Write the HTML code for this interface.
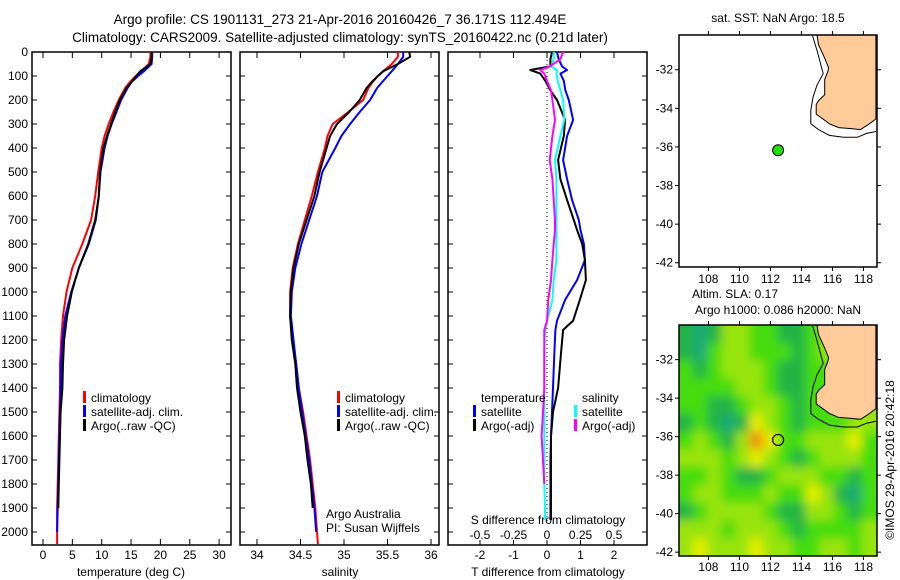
<!DOCTYPE html>
<html><head><meta charset="utf-8"><style>
body{margin:0;background:#fff;}
svg{display:block;font-family:"Liberation Sans",sans-serif;}
text{fill:#000;}
</style></head><body>
<svg id="fig" width="900" height="580" viewBox="0 0 900 580" xmlns="http://www.w3.org/2000/svg">
<defs>
<filter id="blur" x="-5%" y="-5%" width="110%" height="110%"><feGaussianBlur stdDeviation="5"/></filter>
<clipPath id="map2clip"><rect x="679" y="325" width="198" height="231"/></clipPath>
</defs>
<text x="340" y="24" font-size="13.5" text-anchor="middle">Argo profile: CS 1901131_273 21-Apr-2016 20160426_7 36.171S 112.494E</text>
<text x="340" y="42" font-size="13.5" text-anchor="middle">Climatology: CARS2009. Satellite-adjusted climatology: synTS_20160422.nc (0.21d later)</text>
<g id="layer"></g>
</svg>
<script>
// ---- profile data ----
const depths = [0,20,50,80,100,125,150,200,250,300,350,400,500,600,700,800,900,1000,1100,1200,1300,1400,1500,1600,1700,1800,1900,2000,2050];
const tempClim = [18.3,18.3,18.0,16.8,15.8,14.8,14.0,12.9,12.0,11.2,10.5,10.0,9.4,8.9,8.2,6.7,5.0,4.0,3.4,3.1,2.9,2.9,2.8,2.7,2.6,2.5,2.4,2.4,2.4];
const tempSat  = [18.6,18.6,18.5,17.2,16.2,15.1,14.4,13.3,12.5,11.7,11.0,10.5,9.8,9.5,9.0,7.8,6.1,4.8,3.8,3.3,3.1,3.0,2.9,2.8,2.7,2.6,2.5,2.4,null];
const tempArgo = [18.5,18.5,18.3,16.6,15.9,15.1,14.2,13.1,12.3,11.6,10.9,10.3,9.7,9.5,8.9,7.7,6.1,4.9,4.1,3.6,3.4,3.3,3.0,2.9,2.8,2.7,2.6,null,null];
const salClim = [35.62,35.62,35.55,35.45,35.39,35.33,35.28,35.22,35.05,34.87,34.81,34.78,34.70,34.63,34.55,34.47,34.41,34.38,34.38,34.41,34.45,34.48,34.53,34.57,34.61,34.64,34.67,34.69,34.70];
const salSat  = [35.68,35.68,35.62,35.55,35.50,35.44,35.38,35.30,35.18,35.07,34.97,34.90,34.75,34.69,34.60,34.51,34.44,34.40,34.39,34.42,34.45,34.48,34.52,34.56,34.60,34.63,34.66,34.68,null];
const salArgo = [35.75,35.76,35.62,35.45,35.39,35.32,35.26,35.18,35.06,34.92,34.84,34.80,34.72,34.66,34.57,34.48,34.42,34.39,34.38,34.40,34.44,34.46,34.50,34.55,34.58,34.62,34.64,null,null];
// differences (vs climatology)
const diffDepths = [0,30,60,75,90,120,160,200,283,350,450,530,617,700,742,800,867,950,1033,1120,1158,1250,1400,1500,1600,1700,1800,1900,1950];
const dTSat  = [0.30,0.35,0.45,0.60,0.40,0.50,0.55,0.65,0.78,0.60,0.48,0.60,0.75,0.95,1.00,1.10,1.13,0.90,0.54,0.30,0.25,0.22,0.18,0.15,0.12,0.10,0.10,0.10,0.10];
const dTArgo = [0.15,0.10,0.10,-0.50,-0.20,-0.05,0.10,0.30,0.54,0.50,0.33,0.40,0.60,0.80,0.90,1.05,1.13,1.16,0.98,0.78,0.48,0.42,0.33,0.18,0.12,0.12,0.12,0.12,0.12];
const dSSat  = [0.05,0.05,0.03,0.075,0.07,0.08,0.10,0.12,0.13,0.10,0.06,0.07,0.07,0.07,0.07,0.07,0.07,0.05,0.04,0.00,-0.015,-0.02,-0.02,-0.02,-0.02,-0.02,-0.02,-0.015,-0.015];
const dSArgo = [0.12,0.10,0.02,-0.05,-0.02,0.00,0.03,0.04,0.06,0.04,0.02,0.04,0.05,0.06,0.06,0.05,0.04,0.03,0.01,0.00,-0.02,-0.02,-0.02,-0.03,-0.04,-0.03,-0.02,null,null];
// axis ticks
const depthTicks = [0,100,200,300,400,500,600,700,800,900,1000,1100,1200,1300,1400,1500,1600,1700,1800,1900,2000];
const tempTicks = [0,5,10,15,20,25,30];
const salTicks = [34,34.5,35,35.5,36];
const salTickLabels = ["34","34.5","35","35.5","36"];
const tdTicks = [-2,-1,0,1,2];
const sdTicks = [-0.5,-0.25,0,0.25,0.5];
const sdTickLabels = ["-0.5","-0.25","0","0.25","0.5"];
// map data
const lonTicks = [108,110,112,114,116,118];
const latTicks = [-32,-34,-36,-38,-40,-42];
const argoLon = [112.494];
const argoLat = [-36.171];
// SLA heatmap (levels 0..5), 13 rows (N->S) x 14 cols (W->E)
const slaRows = [
 [1,0,1,3,3,2,2,1,1,2,3,3,3,3],
 [1,0,2,3,3,2,2,2,1,2,3,3,3,3],
 [2,1,2,3,3,3,2,1,1,2,2,3,3,3],
 [2,2,2,2,3,3,2,1,1,2,2,3,3,3],
 [2,2,1,1,2,3,3,2,1,2,2,3,3,3],
 [1,2,1,0,1,4,3,2,1,2,2,2,3,3],
 [2,3,2,1,3,5,4,2,2,3,3,3,4,2],
 [3,3,3,2,3,4,3,2,1,2,3,3,3,2],
 [2,2,3,2,1,1,2,3,3,3,2,2,1,2],
 [2,3,3,2,2,2,3,2,2,4,3,1,0,2],
 [1,2,3,3,3,3,2,1,1,3,3,2,1,2],
 [3,3,3,2,3,3,3,2,1,2,2,2,2,3],
 [3,4,3,3,3,4,3,3,2,2,3,3,2,3]
];
const slaColors = ["#1faa77","#22b444","#44dd11","#99e411","#e6ee00","#f09010"];
// coast (lon, lat)
const coastLon = [115.0,115.1,115.5,115.75,115.7,115.5,115.5,115.1,114.95,114.95,115.3,115.8,116.4,117.2,117.8,118.3,118.8,118.8];
const coastLat = [-30.2,-30.7,-31.4,-31.9,-32.1,-32.5,-33.3,-33.6,-33.8,-34.3,-34.5,-34.8,-35.0,-35.05,-35.1,-34.85,-34.55,-30.2];
const shelfLon = [114.7,115.0,115.3,115.4,115.0,114.75,114.6,114.6,115.1,115.8,116.7,117.6,118.2,118.8];
const shelfLat = [-30.2,-31.0,-31.9,-32.2,-32.8,-33.4,-34.1,-34.8,-35.1,-35.4,-35.5,-35.5,-35.3,-35.2];

const NS="http://www.w3.org/2000/svg";
const layer=document.getElementById('layer');
function mk(tag,attrs,parent){const e=document.createElementNS(NS,tag);for(const k in attrs)e.setAttribute(k,attrs[k]);(parent||layer).appendChild(e);return e;}
function txt(x,y,s,size,anchor,parent){const t=mk('text',{x:x,y:y,'font-size':size||12,'text-anchor':anchor||'middle'},parent);t.textContent=s;return t;}

// axis functions
const yDepth=d=>52+0.24*d;
const xTemp=v=>43+5.87*v;
const xSal=v=>257+87*(v-34);
const xTD=v=>547+33.5*v;
const xSD=v=>547+134*v;
function mapX(lon){return 679+(lon-106.1)*15.5;}
function mapY1(lat){return 35+(-30.2-lat)*19.3;}
function mapY2(lat){return 325+(-30.2-lat)*19.25;}

function series(xs,ds,xf,color,name,w){
  let pts=[];
  for(let i=0;i<ds.length;i++){ if(xs[i]==null) continue; pts.push(xf(xs[i]).toFixed(1)+','+yDepth(ds[i]).toFixed(1)); }
  const p=mk('polyline',{points:pts.join(' '),fill:'none',stroke:color,'stroke-width':w||2,'stroke-linejoin':'round'});
  
  
}
function panel(x0,name){
  const g=mk('rect',{x:x0,y:52,width:199,height:493,fill:'none',stroke:'#000','stroke-width':1.5});
  
  
  for(const d of depthTicks){const y=yDepth(d);mk('line',{x1:x0,y1:y,x2:x0+5,y2:y,stroke:'#000'});mk('line',{x1:x0+199,y1:y,x2:x0+194,y2:y,stroke:'#000'});}
}
function xticks(vals,labels,xf,ytext,name){
  vals.forEach((v,i)=>{const x=xf(v);mk('line',{x1:x,y1:52,x2:x,y2:58,stroke:'#000'});mk('line',{x1:x,y1:545,x2:x,y2:539,stroke:'#000'});
    const t=txt(x,ytext,labels[i],12);});
}
function legendEntry(x,y,color,label,name){
  mk('rect',{x:x,y:y-11,width:3,height:12,fill:color});
  const t=txt(x+8,y,label,12,'start');
  
  
}

// Panel 1 temperature
panel(32,'temperature-panel');
depthTicks.forEach(d=>{const t=txt(28,yDepth(d)+4,String(d),12,'end');});
xticks(tempTicks,tempTicks.map(String),xTemp,559,'temperature-tick-label');
txt(131,576,'temperature (deg C)',12);
series(tempClim,depths,xTemp,'#ff0000','temp-climatology-line');
series(tempSat,depths,xTemp,'#0000ff','temp-satellite-line');
series(tempArgo,depths,xTemp,'#000000','temp-argo-line');
legendEntry(83,402,'#ff0000','climatology','legend-climatology');
legendEntry(83,416,'#0000ff','satellite-adj. clim.','legend-satellite');
legendEntry(83,430,'#000000','Argo(..raw -QC)','legend-argo');

// Panel 2 salinity
panel(240,'salinity-panel');
xticks(salTicks,salTickLabels,xSal,559,'salinity-tick-label');
txt(340,576,'salinity',12);
series(salClim,depths,xSal,'#ff0000','sal-climatology-line');
series(salSat,depths,xSal,'#0000ff','sal-satellite-line');
series(salArgo,depths,xSal,'#000000','sal-argo-line');
legendEntry(337,402,'#ff0000','climatology','legend-climatology-2');
legendEntry(337,416,'#0000ff','satellite-adj. clim.','legend-satellite-2');
legendEntry(337,430,'#000000','Argo(..raw -QC)','legend-argo-2');
txt(326,518,'Argo Australia',12,'start');
txt(326,532,'PI: Susan Wijffels',12,'start');

// Panel 3 differences
panel(448,'difference-panel');
mk('line',{x1:xTD(0),y1:52,x2:xTD(0),y2:yDepth(1960),stroke:'#000','stroke-dasharray':'1,3'});
tdTicks.forEach(v=>{const x=xTD(v);mk('line',{x1:x,y1:52,x2:x,y2:58,stroke:'#000'});const t=txt(x,559,String(v),12);});
sdTicks.forEach((v,i)=>{const x=xSD(v);mk('line',{x1:x,y1:545,x2:x,y2:540,stroke:'#000'});const t=txt(x,539,sdTickLabels[i],12);});
txt(548,524,'S difference from climatology',12);
txt(548,576,'T difference from climatology',12);
series(dTSat,diffDepths,xTD,'#0000ff','t-diff-satellite-line');
series(dTArgo,diffDepths,xTD,'#000000','t-diff-argo-line');
series(dSSat,diffDepths,xSD,'#00ffff','s-diff-satellite-line');
series(dSArgo,diffDepths,xSD,'#ff00ff','s-diff-argo-line');
txt(481,402,'temperature',12,'start');
legendEntry(473,416,'#0000ff','satellite','legend-t-satellite');
legendEntry(473,430,'#000000','Argo(-adj)','legend-t-argo');
txt(582,402,'salinity',12,'start');
legendEntry(574,416,'#00ffff','satellite','legend-s-satellite');
legendEntry(574,430,'#ff00ff','Argo(-adj)','legend-s-argo');

// Maps
function coastPts(yf,lons,lats){return lons.map((l,i)=>mapX(l).toFixed(1)+','+yf(lats[i]).toFixed(1)).join(' ');}
function mapFrame(top,h,yf,ylab,name){
  const r=mk('rect',{x:679,y:top,width:198,height:h,fill:'none',stroke:'#000','stroke-width':1.5});
  
  
  lonTicks.forEach(l=>{const x=mapX(l);mk('line',{x1:x,y1:top,x2:x,y2:top-4,stroke:'#000'});mk('line',{x1:x,y1:top+h,x2:x,y2:top+h+4,stroke:'#000'});
    const t=txt(x,ylab,String(l),12);});
  latTicks.forEach(la=>{const y=yf(la);mk('line',{x1:679,y1:y,x2:675,y2:y,stroke:'#000'});mk('line',{x1:877,y1:y,x2:881,y2:y,stroke:'#000'});
    const t=txt(673,y+4,String(la),12,'end');});
}
// map 1
txt(778,22,'sat. SST: NaN Argo: 18.5',12);
const land1=mk('polygon',{points:coastPts(mapY1,coastLon,coastLat),fill:'#ffcc99',stroke:'#000','stroke-width':1});


mk('polyline',{points:coastPts(mapY1,shelfLon,shelfLat),fill:'none',stroke:'#000','stroke-width':1});
argoLon.forEach((l,i)=>{const c=mk('circle',{cx:mapX(l),cy:mapY1(argoLat[i]),r:5.5,fill:'#22dd00',stroke:'#000','stroke-width':1});
  
  });
mapFrame(35,232,mapY1,283,'sst-map-frame');

// map 2
txt(735,298,'Altim. SLA: 0.17',12);
txt(778,314,'Argo h1000: 0.086 h2000: NaN',12);
const hg=mk('g',{'clip-path':'url(#map2clip)'});
const hb=mk('g',{filter:'url(#blur)'},hg);
const nR=slaRows.length,nC=slaRows[0].length;
const cw=(118.8-106.1)/nC, ch=(42.2-30.2)/nR;
for(let r=-1;r<=nR;r++)for(let c=-1;c<=nC;c++){
  const rr=Math.min(nR-1,Math.max(0,r)),cc=Math.min(nC-1,Math.max(0,c));
  const v=slaRows[rr][cc];
  const x0=mapX(106.1+c*cw),x1=mapX(106.1+(c+1)*cw),y0=mapY2(-30.2-r*ch),y1=mapY2(-30.2-(r+1)*ch);
  const cell=mk('rect',{x:x0,y:y0,width:x1-x0+0.5,height:y1-y0+0.5,fill:slaColors[v]},hb);
  
  
}
const land2=mk('polygon',{points:coastPts(mapY2,coastLon,coastLat),fill:'#ffcc99',stroke:'#000','stroke-width':1},hg);


mk('polyline',{points:coastPts(mapY2,shelfLon,shelfLat),fill:'none',stroke:'#000','stroke-width':1},hg);
argoLon.forEach((l,i)=>{const c=mk('circle',{cx:mapX(l),cy:mapY2(argoLat[i]),r:5.5,fill:'none',stroke:'#000','stroke-width':1.2});
  
  });
mapFrame(325,231,mapY2,571,'sla-map-frame');

const cr=txt(0,0,'©IMOS 29-Apr-2016 20:42:18',12);
cr.setAttribute('transform','translate(894,460) rotate(-90)');


</script>
</body></html>
